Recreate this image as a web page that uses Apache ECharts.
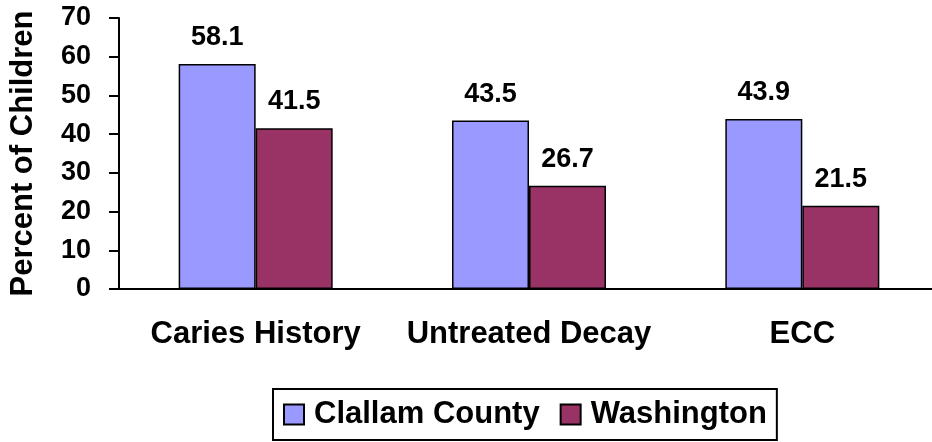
<!DOCTYPE html>
<html>
<head>
<meta charset="utf-8">
<script src="https://cdn.jsdelivr.net/npm/echarts@6/dist/echarts.min.js"></script>
<style>
  html, body { margin: 0; padding: 0; background: #fff; }
  #chart { width: 932px; height: 442px; }
</style>
</head>
<body>
<div id="chart"></div>
<script>
// 数据
const categories = ['Caries History', 'Untreated Decay', 'ECC']
const clallam = [58.1, 43.5, 43.9]
const washington = [41.5, 26.7, 21.5]
const yTicks = { min: 0, max: 70, interval: 10 }

const FONT = 'Liberation Sans, Arial, sans-serif'

const myChart = echarts.init(document.getElementById('chart'))

// 柱子公共样式
const barSeries = (name, data, color) => ({
  name,
  type: 'bar',
  data,
  barWidth: 77,
  barGap: '0%',
  itemStyle: { color, borderColor: '#000', borderWidth: 1.5 },
  label: {
    show: true,
    position: 'top',
    distance: 13,
    color: '#000',
    fontFamily: FONT,
    fontWeight: 'bold',
    fontSize: 27
  }
})

myChart.setOption({
  animation: false,
  backgroundColor: '#fff',
  grid: { left: 119, top: 18, width: 820, height: 271, outerBoundsMode: 'none', containLabel: false },
  legend: {
    left: 273,
    top: 389,
    padding: [10, 10, 10, 10],
    borderColor: '#000',
    borderWidth: 2,
    itemWidth: 20,
    itemHeight: 20,
    itemGap: 20,
    icon: 'rect',
    itemStyle: { borderColor: '#000', borderWidth: 2 },
    textStyle: {
      color: '#000',
      fontFamily: FONT,
      fontWeight: 'bold',
      fontSize: 31,
      padding: [0, 0, 0, 5]
    }
  },
  xAxis: {
    type: 'category',
    data: categories,
    axisLine: { lineStyle: { color: '#000', width: 2 } },
    axisTick: { length: 10, lineStyle: { color: '#000', width: 2 } },
    axisLabel: {
      interval: 0,
      hideOverlap: false,
      margin: 30,
      color: '#000',
      fontFamily: FONT,
      fontWeight: 'bold',
      fontSize: 31
    }
  },
  yAxis: {
    type: 'value',
    min: yTicks.min,
    max: yTicks.max,
    interval: yTicks.interval,
    name: 'Percent of Children',
    nameLocation: 'middle',
    nameRotate: 90,
    nameGap: 80,
    nameTextStyle: {
      color: '#000',
      fontFamily: FONT,
      fontWeight: 'bold',
      fontSize: 31
    },
    splitLine: { show: false },
    axisLine: { show: true, lineStyle: { color: '#000', width: 2 } },
    axisTick: { show: true, length: 10, lineStyle: { color: '#000', width: 2 } },
    axisLabel: {
      margin: 28,
      color: '#000',
      fontFamily: FONT,
      fontWeight: 'bold',
      fontSize: 27
    }
  },
  series: [
    barSeries('Clallam County', clallam, '#9999FF'),
    barSeries('Washington', washington, '#993366')
  ]
})
</script>
</body>
</html>
